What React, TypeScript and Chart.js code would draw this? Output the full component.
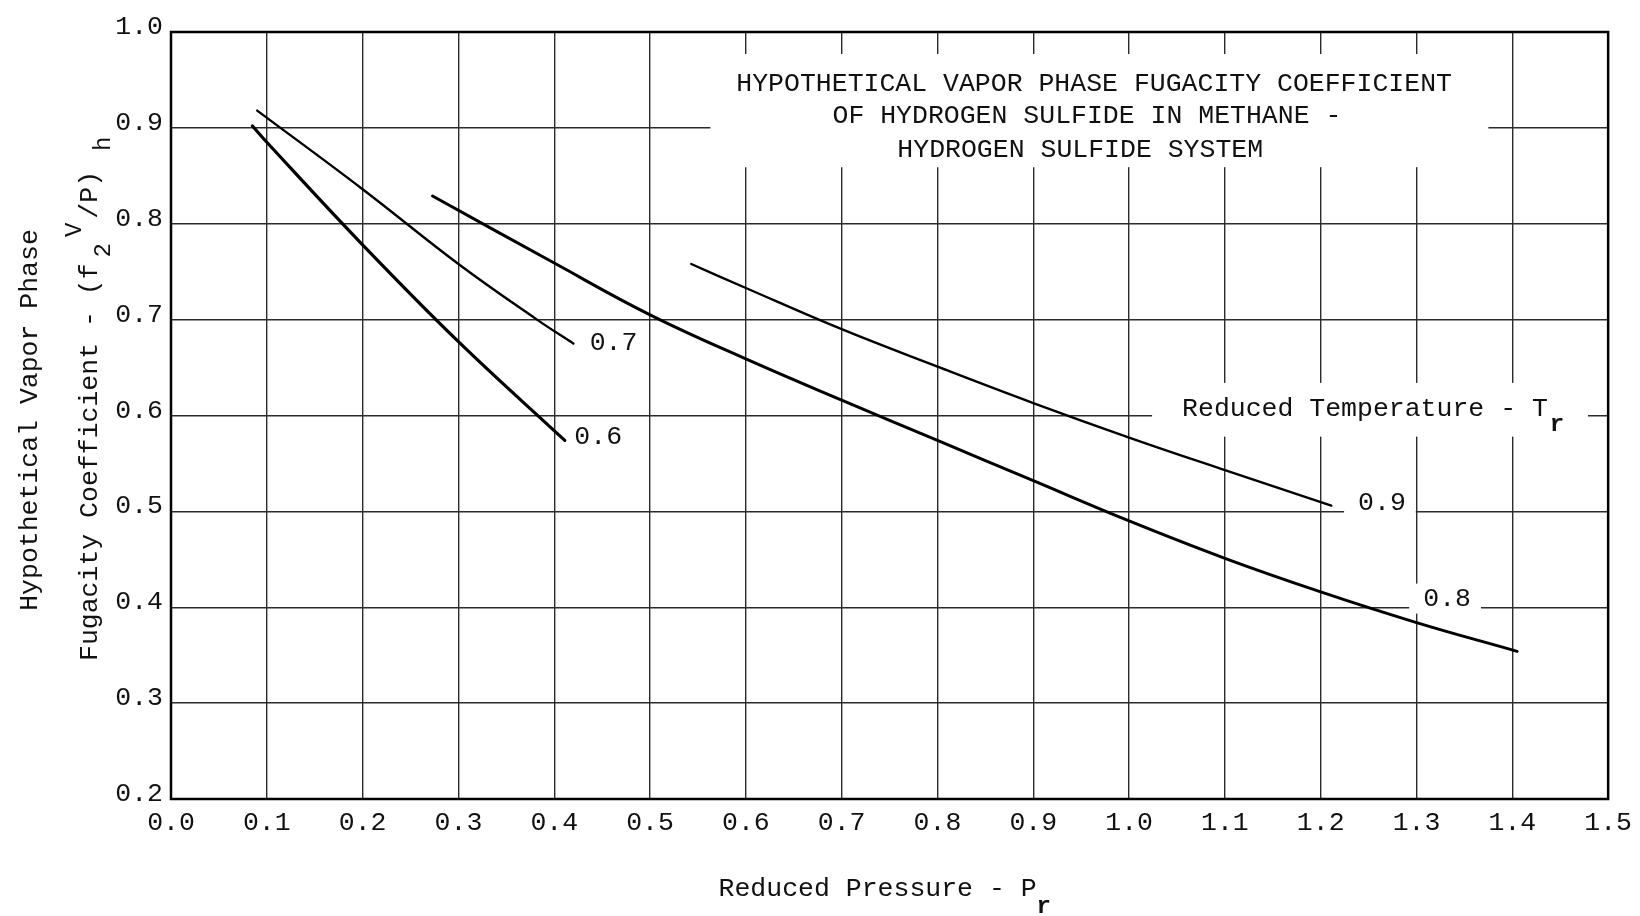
import React, { useEffect, useRef } from 'react';
import { Chart, registerables } from 'chart.js';

Chart.register(...registerables);

// ---------- data ----------
const X_TICK_LABELS = ['0.0', '0.1', '0.2', '0.3', '0.4', '0.5', '0.6', '0.7', '0.8', '0.9', '1.0', '1.1', '1.2', '1.3', '1.4', '1.5'];
const Y_TICK_LABELS = ['0.2', '0.3', '0.4', '0.5', '0.6', '0.7', '0.8', '0.9', '1.0'];
const SERIES_NAMES = ['0.6', '0.7', '0.8', '0.9'];

const TR06_X = [0.085, 0.1, 0.2, 0.3, 0.411];
const TR06_Y = [0.902, 0.885, 0.778, 0.677, 0.574];

const TR07_X = [0.09, 0.2, 0.3, 0.382, 0.42];
const TR07_Y = [0.918, 0.836, 0.758, 0.70, 0.675];

const TR08_X = [0.273, 0.4, 0.5, 0.6, 0.7, 0.8, 0.9, 1.0, 1.1, 1.2, 1.3, 1.405];
const TR08_Y = [0.829, 0.759, 0.705, 0.659, 0.616, 0.574, 0.532, 0.490, 0.451, 0.416, 0.384, 0.354];

const TR09_X = [0.543, 0.6, 0.7, 0.8, 0.9, 1.0, 1.1, 1.211];
const TR09_Y = [0.758, 0.733, 0.690, 0.651, 0.613, 0.577, 0.543, 0.506];

const TITLE_LINES = [
  'HYPOTHETICAL VAPOR PHASE FUGACITY COEFFICIENT',
  'OF HYDROGEN SULFIDE IN METHANE -',
  'HYDROGEN SULFIDE SYSTEM',
];
const Y_TITLE_1 = 'Hypothetical Vapor Phase';
const Y_TITLE_2 = 'Fugacity Coefficient - (f';
const X_TITLE = 'Reduced Pressure - P';
const LEGEND_TITLE = 'Reduced Temperature - T';

// ---------- styling / layout ----------
const FONT_FAMILY = '"Liberation Mono", "DejaVu Sans Mono", monospace';
const FONT_SIZE = 26.5;
const INK = '#111';

const SERIES_STYLE = [
  { width: 3.2 },
  { width: 2.4 },
  { width: 3.0 },
  { width: 2.4 },
];

// label anchors in data space (left edge, vertical middle)
const SERIES_LABEL_POS = [
  { x: 0.421, y: 0.578 },
  { x: 0.437, y: 0.676 },
  { x: 1.307, y: 0.409 },
  { x: 1.239, y: 0.509 },
];

const TITLE_BOX = { x0: 0.563, x1: 1.375, y0: 0.977, y1: 0.859 };
const TITLE_POS = [
  { x: 0.9635, y: 0.9458 },
  { x: 0.956, y: 0.9124 },
  { x: 0.949, y: 0.877 },
];
const LEGEND_BOX = { x0: 1.024, x1: 1.479, y0: 0.634, y1: 0.578 };
const LEGEND_POS = { x: 1.0553, y: 0.607 };

const font = (size: number, bold = false) => `${bold ? 'bold ' : ''}${size}px ${FONT_FAMILY}`;

const annotationsPlugin = {
  id: 'annotations',
  beforeDraw(chart: any) {
    const { ctx, width, height } = chart;
    ctx.save();
    ctx.fillStyle = '#fff';
    ctx.fillRect(0, 0, width, height);
    ctx.restore();
  },
  beforeDatasetsDraw(chart: any) {
    const { ctx, chartArea: a, scales } = chart;
    const xs = scales.x;
    const ys = scales.y;
    const px = (v: number) => xs.getPixelForValue(v);
    const py = (v: number) => ys.getPixelForValue(v);
    ctx.save();

    // white boxes that interrupt the grid
    ctx.fillStyle = '#fff';
    const boxes = [TITLE_BOX, LEGEND_BOX];
    for (const b of boxes) {
      ctx.fillRect(px(b.x0), py(b.y0), px(b.x1) - px(b.x0), py(b.y1) - py(b.y0));
    }
    ctx.font = font(FONT_SIZE);
    SERIES_LABEL_POS.forEach((p, i) => {
      const w = ctx.measureText(SERIES_NAMES[i]).width;
      const lx = px(p.x);
      const ly = py(p.y);
      ctx.fillRect(lx - 14, ly - 15, w + 24, 30);
    });

    // frame
    ctx.strokeStyle = '#000';
    ctx.lineWidth = 2.5;
    ctx.strokeRect(a.left, a.top, a.right - a.left, a.bottom - a.top);

    ctx.fillStyle = INK;
    ctx.textBaseline = 'middle';

    // title
    ctx.textAlign = 'center';
    ctx.font = font(FONT_SIZE);
    TITLE_LINES.forEach((t, i) => {
      ctx.fillText(t, px(TITLE_POS[i].x), py(TITLE_POS[i].y));
    });

    // legend title
    ctx.textAlign = 'left';
    const lx = px(LEGEND_POS.x);
    const ly = py(LEGEND_POS.y);
    ctx.fillText(LEGEND_TITLE, lx, ly);
    const lw = ctx.measureText(LEGEND_TITLE).width;
    ctx.font = font(24, true);
    ctx.fillText('r', lx + lw + 2, ly + 16);

    // series labels
    ctx.font = font(FONT_SIZE);
    SERIES_LABEL_POS.forEach((p, i) => {
      ctx.fillText(SERIES_NAMES[i], px(p.x), py(p.y));
    });

    ctx.restore();
  },
  afterDraw(chart: any) {
    const { ctx, chartArea: a } = chart;
    ctx.save();
    ctx.fillStyle = INK;
    ctx.textBaseline = 'middle';
    ctx.textAlign = 'left';

    // x-axis title
    ctx.font = font(FONT_SIZE);
    const xw = ctx.measureText(X_TITLE).width;
    const xcx = (a.left + a.right) / 2 - 12;
    const xty = a.bottom + 90;
    ctx.fillText(X_TITLE, xcx - xw / 2, xty);
    ctx.font = font(24, true);
    ctx.fillText('r', xcx + xw / 2, xty + 18);

    // y-axis title line 1
    ctx.font = font(FONT_SIZE);
    ctx.save();
    ctx.translate(30, 420);
    ctx.rotate(-Math.PI / 2);
    ctx.textAlign = 'center';
    ctx.fillText(Y_TITLE_1, 0, 0);
    ctx.restore();

    // y-axis title line 2 with sub/superscripts
    ctx.save();
    ctx.translate(90, 661);
    ctx.rotate(-Math.PI / 2);
    ctx.textAlign = 'left';
    ctx.font = font(FONT_SIZE);
    let cx = 0;
    ctx.fillText(Y_TITLE_2, cx, 0);
    cx += ctx.measureText(Y_TITLE_2).width + 6;
    ctx.font = font(24);
    ctx.fillText('2', cx, 14);
    cx += ctx.measureText('2').width + 6;
    ctx.fillText('V', cx, -15);
    cx += ctx.measureText('V').width + 4;
    ctx.font = font(FONT_SIZE);
    ctx.fillText('/P)', cx, 0);
    cx += ctx.measureText('/P)').width + 20;
    ctx.font = font(24);
    ctx.fillText('h', cx, 14);
    ctx.restore();

    ctx.restore();
  },
};

const makeDataset = (xs: number[], ys: number[], i: number) => ({
  label: SERIES_NAMES[i],
  data: xs.map((x, k) => ({ x, y: ys[k] })),
  showLine: true,
  fill: false,
  borderColor: '#000',
  backgroundColor: '#000',
  borderWidth: SERIES_STYLE[i].width,
  pointRadius: 0,
  tension: 0.4,
  borderCapStyle: 'round' as const,
  borderJoinStyle: 'round' as const,
});

export default function App() {
  const ref = useRef<HTMLCanvasElement | null>(null);

  useEffect(() => {
    if (!ref.current) return;
    const chart = new Chart(ref.current, {
      type: 'scatter',
      data: {
        datasets: [
          makeDataset(TR06_X, TR06_Y, 0),
          makeDataset(TR07_X, TR07_Y, 1),
          makeDataset(TR08_X, TR08_Y, 2),
          makeDataset(TR09_X, TR09_Y, 3),
        ],
      },
      options: {
        responsive: false,
        animation: false,
        devicePixelRatio: 1,
        layout: { padding: { top: 32, right: 30, left: 0, bottom: 0 } },
        plugins: {
          legend: { display: false },
          tooltip: { enabled: false },
          title: { display: false },
        },
        scales: {
          x: {
            type: 'linear',
            min: 0,
            max: 1.5,
            afterFit: (scale: any) => {
              scale.height = 117;
            },
            ticks: {
              stepSize: 0.1,
              autoSkip: false,
              maxRotation: 0,
              padding: 8,
              color: INK,
              font: { family: FONT_FAMILY, size: FONT_SIZE },
              callback: (_v: any, i: number) => X_TICK_LABELS[i],
            },
            grid: { color: '#2b2b2b', lineWidth: 1.4, drawTicks: false },
            border: { display: false },
          },
          y: {
            type: 'linear',
            min: 0.2,
            max: 1.0,
            afterFit: (scale: any) => {
              scale.width = 171;
            },
            ticks: {
              stepSize: 0.1,
              autoSkip: false,
              padding: 8,
              labelOffset: -5,
              color: INK,
              font: { family: FONT_FAMILY, size: FONT_SIZE },
              callback: (_v: any, i: number) => Y_TICK_LABELS[i],
            },
            grid: { color: '#2b2b2b', lineWidth: 1.4, drawTicks: false },
            border: { display: false },
          },
        },
      },
      plugins: [annotationsPlugin],
    });
    return () => chart.destroy();
  }, []);

  return (
    <div style={{ position: 'fixed', left: 0, top: 0, width: 1640, height: 916, background: '#fff' }}>
      <canvas ref={ref} width={1640} height={916} style={{ display: 'block' }} />
    </div>
  );
}
